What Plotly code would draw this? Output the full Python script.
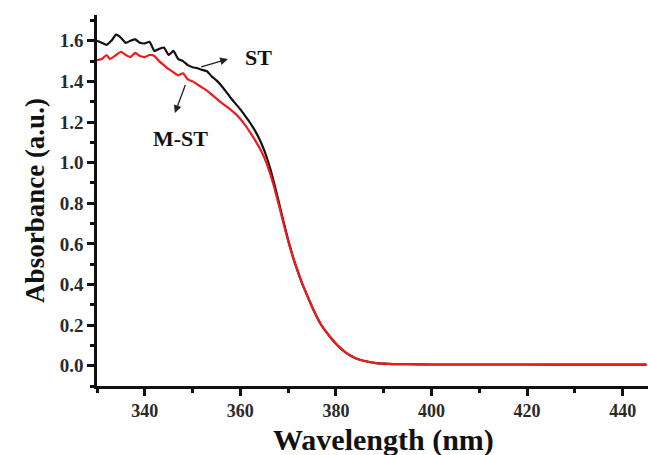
import plotly.graph_objects as go

# UV-Vis absorbance spectra of ST and M-ST
wl_st = [330, 331, 332, 333, 334, 335, 336, 337, 338, 339, 340, 341, 342, 343, 344, 345,
         346, 347, 348, 349, 350, 351, 352, 353, 354, 355, 356, 357, 358, 359, 360, 361,
         362, 363, 364, 365, 366, 367, 368, 369, 370, 371, 372, 373, 374, 375, 376, 377,
         378, 379, 380, 381, 382, 383, 384, 385, 386, 387, 388, 390, 392, 395, 400, 410,
         420, 430, 445]
abs_st = [1.60, 1.59, 1.58, 1.60, 1.63, 1.615, 1.59, 1.60, 1.607, 1.59, 1.587, 1.595, 1.55, 1.56,
          1.567, 1.53, 1.55, 1.51, 1.50, 1.48, 1.47, 1.465, 1.457, 1.45, 1.425, 1.405, 1.38,
          1.35, 1.318, 1.29, 1.262, 1.23, 1.197, 1.16, 1.115, 1.06, 0.99, 0.905, 0.81, 0.712,
          0.619, 0.536, 0.466, 0.40, 0.345, 0.29, 0.24, 0.198, 0.165, 0.135, 0.108, 0.085,
          0.065, 0.05, 0.038, 0.029, 0.023, 0.018, 0.014, 0.010, 0.008, 0.007, 0.006,
          0.006, 0.006, 0.005, 0.005]

wl_mst = [330, 331, 332, 332.7, 334, 335, 336, 337, 338, 339, 340, 341, 342, 343, 344, 345,
          346, 347, 348, 349, 350, 351, 352, 353, 354, 355, 356, 357, 358, 359, 360, 361,
          362, 363, 364, 365, 366, 367, 368, 369, 370, 371, 372, 373, 374, 375, 376, 377,
          378, 379, 380, 381, 382, 383, 384, 385, 386, 387, 388, 390, 392, 395, 400, 410,
          420, 430, 445]
abs_mst = [1.505, 1.51, 1.53, 1.51, 1.53, 1.546, 1.53, 1.52, 1.54, 1.525, 1.52, 1.53, 1.525,
           1.50, 1.48, 1.46, 1.445, 1.43, 1.44, 1.41, 1.40, 1.385, 1.37, 1.355, 1.335, 1.315,
           1.295, 1.278, 1.26, 1.24, 1.215, 1.185, 1.15, 1.113, 1.073, 1.025, 0.962, 0.885,
           0.795, 0.703, 0.614, 0.534, 0.464, 0.40, 0.344, 0.29, 0.24, 0.198, 0.165, 0.135,
           0.108, 0.085, 0.065, 0.05, 0.038, 0.029, 0.023, 0.018, 0.014, 0.010, 0.008, 0.007,
           0.006, 0.006, 0.006, 0.005, 0.005]

x_ticks = [340, 360, 380, 400, 420, 440]
y_ticks = [0.0, 0.2, 0.4, 0.6, 0.8, 1.0, 1.2, 1.4, 1.6]

FONT = "Liberation Serif"

fig = go.Figure()
fig.add_trace(go.Scatter(x=wl_st, y=abs_st, mode="lines", name="ST",
                         line=dict(color="#111111", width=2.2, shape="spline",
                                   smoothing=0.4)))
fig.add_trace(go.Scatter(x=wl_mst, y=abs_mst, mode="lines", name="M-ST",
                         line=dict(color="#ee1c1c", width=2.2, shape="spline",
                                   smoothing=0.4)))

axis_common = dict(
    showline=True, linecolor="#111111", linewidth=2.5,
    ticks="outside", ticklen=7, tickwidth=2.5, tickcolor="#111111",
    showgrid=False, zeroline=False,
)

fig.update_xaxes(
    range=[330, 445.3], tickvals=x_ticks,
    minor=dict(ticks="outside", dtick=10, tick0=330, ticklen=4, tickwidth=2.5,
               tickcolor="#111111"),
    tickfont=dict(family=FONT, size=18, color="#2a2a2a", weight="bold"),
    **axis_common,
)
fig.update_yaxes(
    range=[-0.1, 1.727], tickvals=y_ticks, tickformat=".1f",
    minor=dict(ticks="outside", dtick=0.1, tick0=0, ticklen=4, tickwidth=2.5,
               tickcolor="#111111"),
    tickfont=dict(family=FONT, size=19, color="#2a2a2a", weight="bold"),
    title=dict(text="Absorbance (a.u.)", standoff=8,
               font=dict(family=FONT, size=27, color="#111111", weight="bold")),
    **axis_common,
)

# x-axis title placed just under the tick labels
fig.add_annotation(x=0.52, y=-0.145, xref="paper", yref="paper",
                   text="Wavelength (nm)", showarrow=False,
                   xanchor="center", yanchor="middle",
                   font=dict(family=FONT, size=30, color="#111111", weight="bold"))

label_font = dict(family=FONT, size=22, color="#111111", weight="bold")
fig.add_annotation(x=363.8, y=1.52, text="ST", showarrow=False, font=label_font,
                   xref="x", yref="y")
fig.add_annotation(x=357.4, y=1.51, ax=351.5, ay=1.47, axref="x", ayref="y",
                   xref="x", yref="y", text="", showarrow=True, arrowhead=2,
                   arrowsize=1.2, arrowwidth=1.3, arrowcolor="#222222")
fig.add_annotation(x=347.4, y=1.12, text="M-ST", showarrow=False, font=label_font,
                   xref="x", yref="y")
fig.add_annotation(x=346.3, y=1.244, ax=348.6, ay=1.39, axref="x", ayref="y",
                   xref="x", yref="y", text="", showarrow=True, arrowhead=2,
                   arrowsize=1.2, arrowwidth=1.3, arrowcolor="#222222")

fig.update_layout(
    width=648, height=455,
    margin=dict(l=97, r=0, t=15, b=69),
    paper_bgcolor="white", plot_bgcolor="white",
    showlegend=False,
)

fig.write_html("out.html")
